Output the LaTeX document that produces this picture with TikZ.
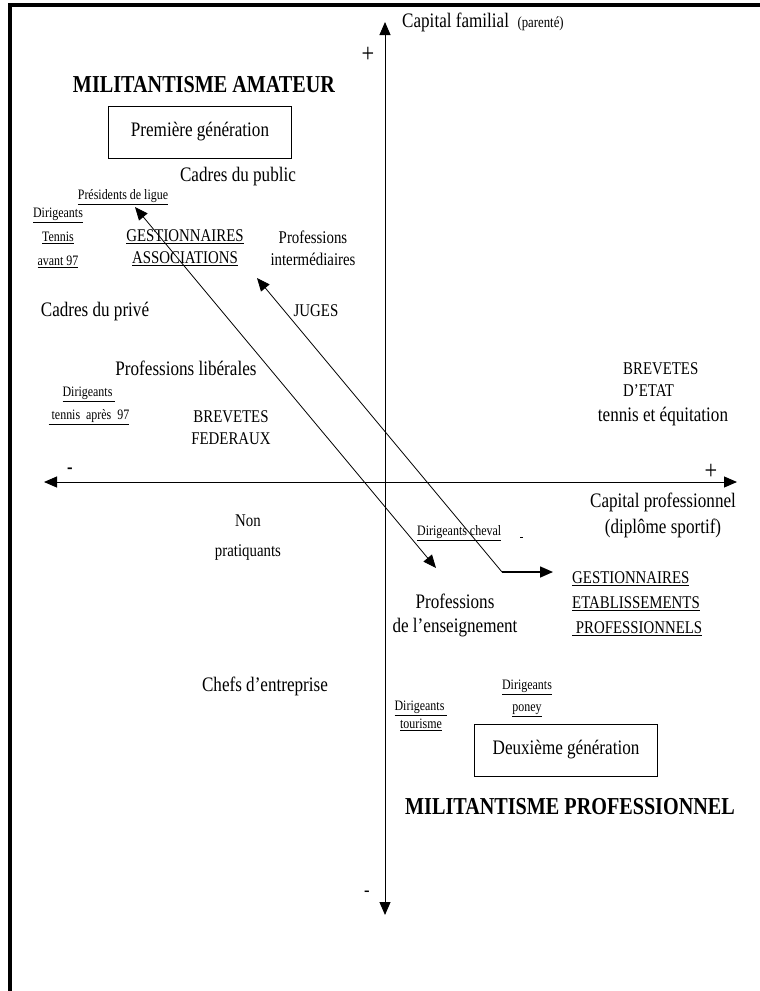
\documentclass[tikz,border=0pt]{standalone}
\usepackage{fontspec}
\setmainfont{Liberation Serif}[FakeStretch=0.83]
\usetikzlibrary{arrows.meta}
\tikzset{%
	grand/.style  = {font=\fontsize{20.6}{24}\selectfont, align=center, inner sep=0pt},
	moyen/.style  = {font=\fontsize{17.9}{22}\selectfont, align=center, inner sep=0pt},
	petit/.style  = {font=\fontsize{14.4}{24}\selectfont, align=center, inner sep=0pt},
	titre/.style  = {font=\bfseries\fontsize{24.3}{26}\selectfont, inner sep=0pt},
	cadre/.style  = {draw, line width=1pt, rectangle, minimum width=183pt,
		minimum height=52pt, font=\fontsize{20.6}{24}\selectfont}, % Generation
	signe/.style  = {font=\fontsize{27}{28}\selectfont, inner sep=0pt},
	axe/.style    = {line width=1pt, <->}, % Axes
	fleche/.style = {line width=0.8pt} % Trajectoires
}

\begin{document}
\begin{tikzpicture}[x=1pt, y=-1pt, >={Triangle[length=13pt,width=11pt]}]
	\useasboundingbox (0,0) rectangle (760,991);
	\draw[line width=3.5pt] (760,5) -- (10,5) -- (10,991);

	% axes
	\coordinate (haut)   at (385,22);
	\coordinate (bas)    at (385,915);
	\coordinate (gauche) at (44,482);
	\coordinate (droite) at (737,482);
	\draw[axe] (bas) -- (haut);
	\draw[axe] (gauche) -- (droite);

	\node[signe] (plushaut)    at (368,55)  {+};
	\node[signe, font=\fontsize{20}{20}\selectfont] (moinsbas) at (367,894) {-};
	\node[signe, font=\bfseries\fontsize{20}{20}\selectfont] (moinsgauche) at (70,471) {-};
	\node[signe] (plusdroite)  at (711,472) {+};

	\node[anchor=west, inner sep=0pt, font=\fontsize{20.6}{24}\selectfont] (capfam) at (402,22)
		{Capital familial\ \ {\fontsize{15.4}{16}\selectfont (parenté)}};
	\node[grand] (capprof) at (663,515) {Capital professionnel\\[2pt](diplôme sportif)};

	% premier quadrant
	\node[titre] (amateur) at (204,85) {MILITANTISME AMATEUR};
	\node[cadre] (gen1) at (200,132) {Première génération};
	\node[grand] (cadrespub) at (238,177) {Cadres du public};
	\node[petit] (presidents) at (123,197) {\underline{Présidents de ligue}};
	\node[petit] (tennisav) at (58,238) {\underline{Dirigeants}\\\underline{Tennis}\\\underline{avant 97}};
	\node[moyen] (gestassoc) at (185,248) {\underline{GESTIONNAIRES}\\\underline{ASSOCIATIONS}};
	\node[moyen] (profint) at (313,248) {Professions\\intermédiaires};
	\node[grand] (cadrespriv) at (95,312) {Cadres du privé};
	\node[moyen] (juges) at (316,311) {JUGES};
	\node[grand] (proflib) at (186,368) {Professions libérales};
	\node[petit] (tennisap) at (89,406) {\underline{Dirigeants\ }\\[-1pt]\underline{\ tennis\ \ après\ \ 97}};
	\node[moyen] (brevfed) at (231,428) {BREVETES\\FEDERAUX};

	% brevetes d'etat
	\node[moyen, align=left, anchor=west] (brevetat) at (623,380) {BREVETES\\D'ETAT};
	\node[grand] (tenequi) at (663,417) {tennis et équitation};

	% bas
	\node[moyen] (nonprat) at (248,538) {Non\\[8pt]pratiquants};
	\node[petit, anchor=west] (cheval) at (417,533) {\underline{Dirigeants cheval}\hspace{19pt}\underline{\hspace{3pt}}};
	\node[grand] (profens) at (455,615) {Professions\\de l'enseignement};
	\node[moyen, align=left, anchor=west] (gestetab) at (572,604)
		{\underline{GESTIONNAIRES}\\[3pt]\underline{ETABLISSEMENTS}\\[3pt]\underline{\ PROFESSIONNELS}};
	\node[grand] (chefs) at (265,686) {Chefs d'entreprise};
	\node[petit] (tourisme) at (421,716) {\underline{Dirigeants\ }\\[-6pt]\underline{tourisme}};
	\node[petit] (poney) at (527,698) {\underline{Dirigeants}\\[-2pt]\underline{poney}};
	\node[cadre] (gen2) at (566,750) {Deuxième génération};
	\node[titre] (professionnel) at (570,807) {MILITANTISME PROFESSIONNEL};

	% trajectoires
	\coordinate (presTip)  at (135,207);
	\coordinate (ensTip)   at (436,568);
	\coordinate (assocTip) at (257,278);
	\coordinate (coude)    at (502,572);
	\coordinate (etabTip)  at (553,572);
	\draw[fleche, <->] (presTip) -- (ensTip);
	\draw[fleche, <-] (assocTip) -- (coude);
	\draw[fleche, line width=1.6pt, ->] (coude) -- (etabTip);
\end{tikzpicture}
\end{document}
